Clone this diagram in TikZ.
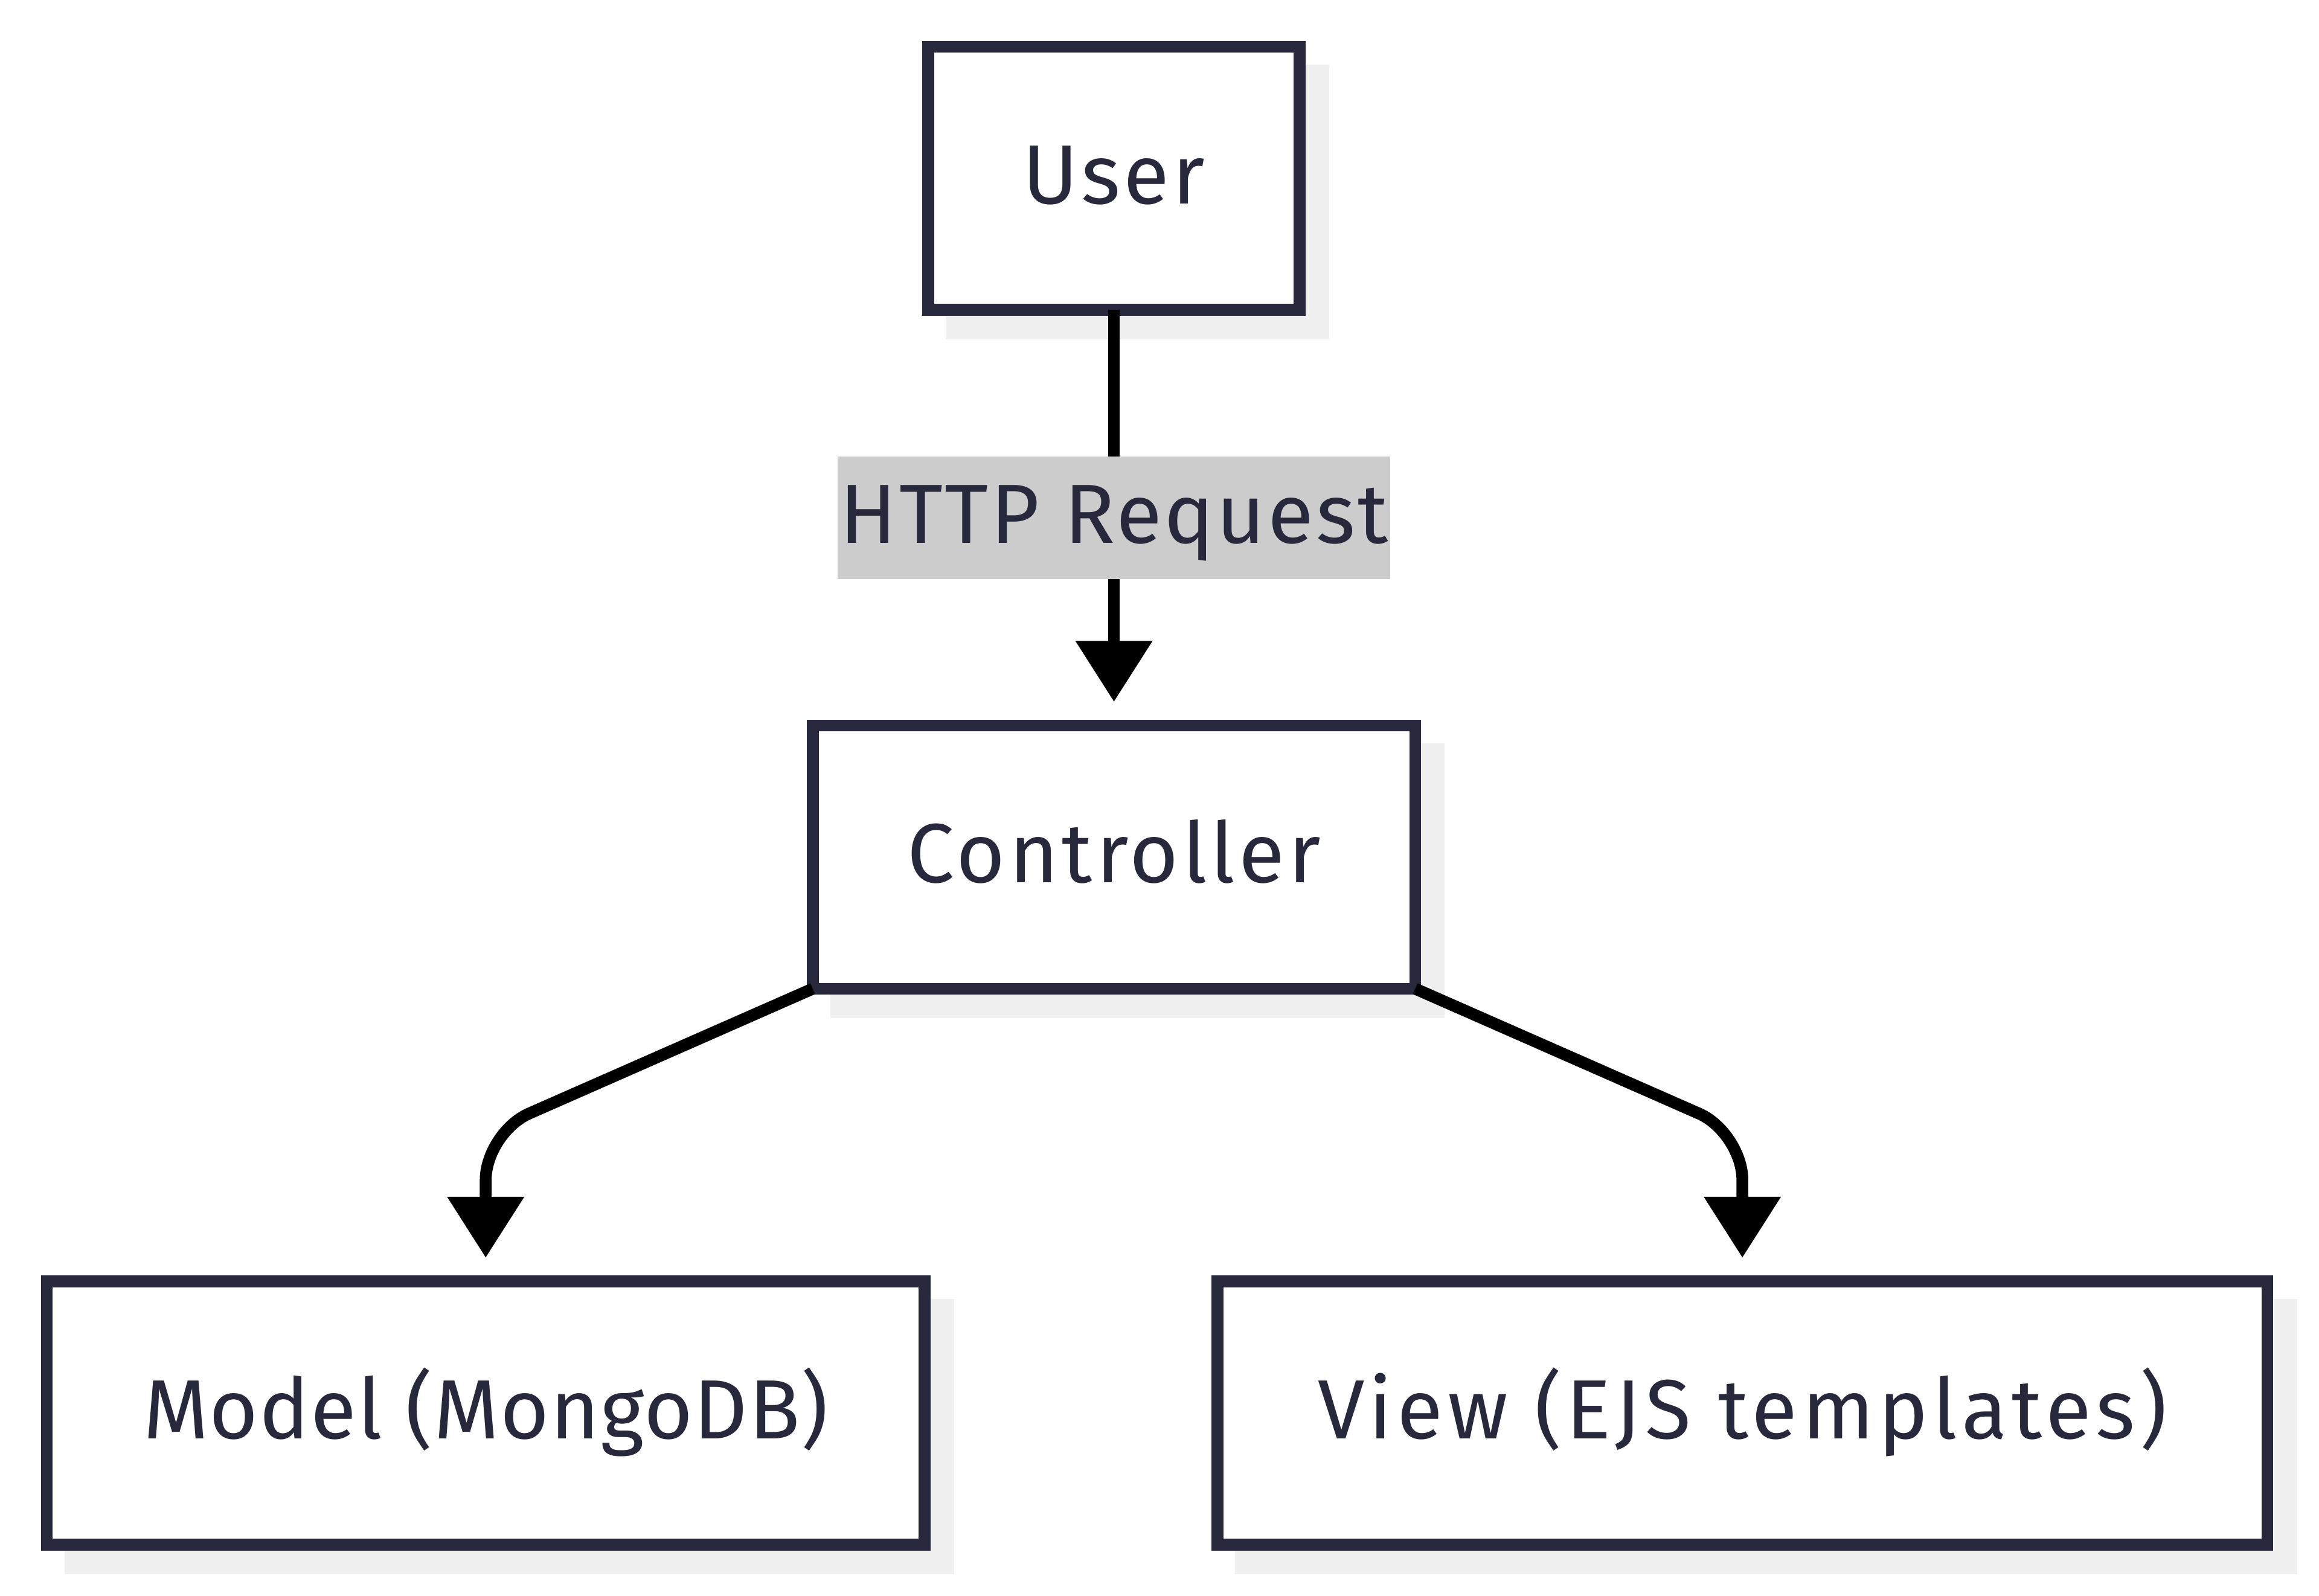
\documentclass[tikz,border=0pt]{standalone}
\usepackage{fontspec}
\setsansfont{Fira Sans}
\usetikzlibrary{arrows.meta,backgrounds,calc}
\definecolor{navy}{HTML}{28283C}
\definecolor{shadowc}{HTML}{F0F0F0}
\definecolor{lblbg}{HTML}{CCCCCC}
\newcommand{\tfont}[1]{\sffamily\fontsize{28.4}{34}\selectfont\addfontfeature{LetterSpace=#1}}
\begin{document}
\begin{tikzpicture}[x=0.5pt,y=-0.5pt,
  txt/.style={text=navy, text height=17.35pt, text depth=0pt},
  box/.style={txt, draw=navy, line width=4pt, fill=white, rectangle, inner sep=0pt, outer sep=0pt, minimum height=89pt},
  conn/.style={draw=black, line width=4pt, -{Triangle[length=20.6pt,width=25pt]}},
  lbl/.style={txt, fill=lblbg, inner sep=0pt, minimum width=186.9pt, minimum height=41.45pt}]
\useasboundingbox (0,0) rectangle (1568,1079);
\node[box, minimum width=125.6pt, font=\tfont{3.7}] (user) at (753.2,120.6) {User};
\node[box, minimum width=203.7pt, font=\tfont{4.4}] (ctrl) at (753.2,579.6) {Controller};
\node[box, minimum width=296.8pt, font=\tfont{1.2}] (model) at (328.4,955.5) {Model (MongoDB)};
\node[box, minimum width=355pt, font=\tfont{5.4}] (view) at (1178.1,955.5) {View (EJS templates)};
\coordinate (mk) at (328.4,765.9);
\coordinate (vk) at (1178.1,765.9);
\draw[conn, shorten >=8pt] (user.south) -- node[lbl, pos=0.5, font=\tfont{2.8}] {HTTP Request} (ctrl.north);
\draw[conn, rounded corners=16pt, shorten >=8pt] (ctrl.south west) -- (mk) -- (model.north);
\draw[conn, rounded corners=16pt, shorten >=8pt] (ctrl.south east) -- (vk) -- (view.north);
\begin{scope}[on background layer]
\fill[white] (0,0) rectangle (1568,1079);
\foreach \n in {user,ctrl,model,view}
  \fill[shadowc] ($(\n.north west)+(12,12)$) rectangle ($(\n.south east)+(20,20)$);
\end{scope}
\end{tikzpicture}
\end{document}
